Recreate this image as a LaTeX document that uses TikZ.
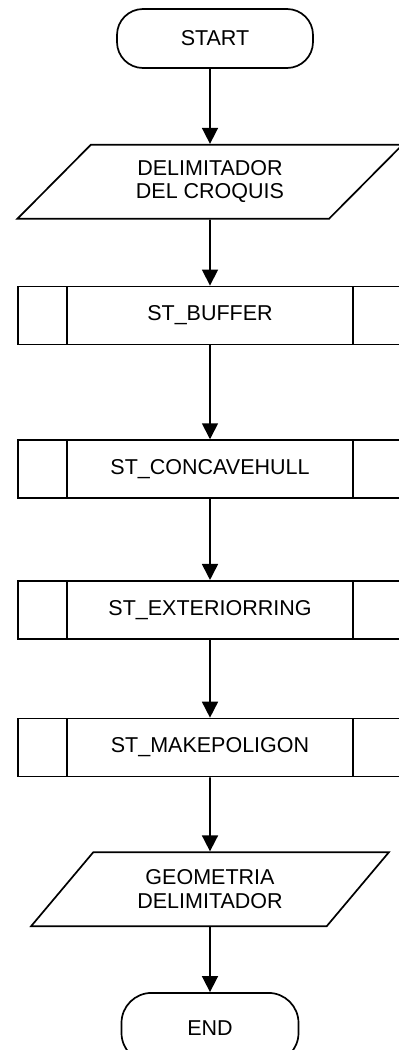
\documentclass[tikz,border=0pt]{standalone}
\usepackage{fontspec}
\setmainfont{Liberation Sans}
\usetikzlibrary{positioning,shapes.geometric,arrows.meta}

\tikzset{basic/.style={draw,line width=1.7pt,fill=white,font=\fontsize{21.5}{23.5}\selectfont,align=center,inner sep=0pt}}
\tikzset{terminal/.style={basic,rectangle,rounded corners=26pt,minimum height=59pt}}
\tikzset{inout/.style={basic,trapezium,trapezium left angle=45,trapezium right angle=135,trapezium stretches=true,minimum height=74pt}}
\tikzset{subproc/.style={basic,rectangle,minimum width=384pt,minimum height=58pt,
    path picture={
        \draw[line width=1.7pt] ([xshift=49pt]path picture bounding box.north west) -- ([xshift=49pt]path picture bounding box.south west);
        \draw[line width=1.7pt] ([xshift=-49pt]path picture bounding box.north east) -- ([xshift=-49pt]path picture bounding box.south east);}}}
\tikzset{flow/.style={line width=1.7pt,-{Triangle[length=16pt,width=16pt]}}}

\begin{document}
\begin{tikzpicture}

    \useasboundingbox (0,0) rectangle (399pt,-1050pt);
    \clip (0,0) rectangle (399pt,-1050pt);

    \node[terminal,minimum width=196pt] (start) at (215pt,-38.5pt) {START};
    \node[inout,trapezium left angle=43,trapezium right angle=137,minimum width=386pt,below=75pt of start,xshift=-5pt] (croquis) {DELIMITADOR\\DEL CROQUIS};
        \draw[flow] (start.south -| croquis.north) -- (croquis.north);
    \node[subproc,below=66pt of croquis] (buffer) {ST\_BUFFER};
        \draw[flow] (croquis) -- (buffer);
    \node[subproc,below=94pt of buffer] (concave) {ST\_CONCAVEHULL};
        \draw[flow] (buffer) -- (concave);
    \node[subproc,below=81pt of concave] (exterior) {ST\_EXTERIORRING};
        \draw[flow] (concave) -- (exterior);
    \node[subproc,below=78pt of exterior] (makepol) {ST\_MAKEPOLIGON};
        \draw[flow] (exterior) -- (makepol);
    \node[inout,minimum width=358pt,below=74pt of makepol] (geom) {GEOMETRIA\\DELIMITADOR};
        \draw[flow] (makepol) -- (geom);
    \node[terminal,rounded corners=30pt,minimum width=177pt,minimum height=70pt,below=65pt of geom] (end) {END};
        \draw[flow] (geom) -- (end);

\end{tikzpicture}
\end{document}
